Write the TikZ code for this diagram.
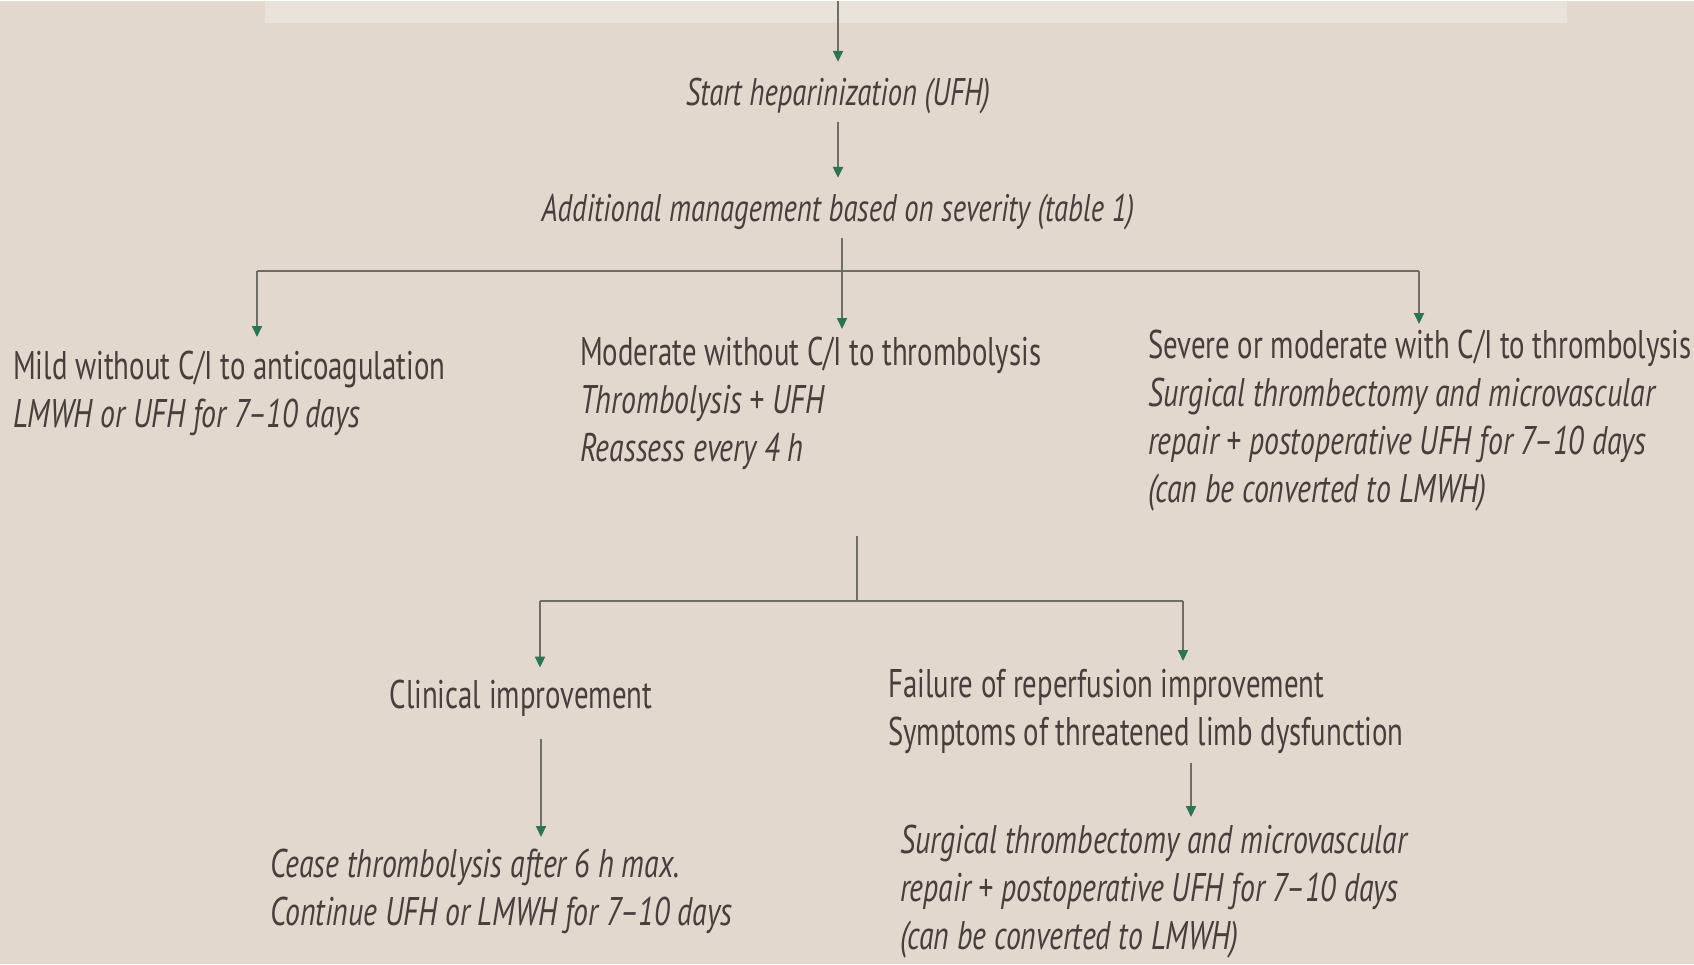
\documentclass[tikz,border=0pt]{standalone}
\usepackage{fontspec}
\setmainfont{PT Sans}[FakeStretch=0.72, ItalicFeatures={FakeStretch=0.745}]
\usetikzlibrary{arrows.meta}
\definecolor{bg}{RGB}{226,216,206}
\definecolor{band}{RGB}{234,227,219}
\definecolor{ink}{RGB}{72,62,62}
\definecolor{linecol}{RGB}{110,110,105}
\definecolor{tipcol}{RGB}{45,115,85}
\tikzset{
  txt/.style={inner sep=0pt, text=ink, font=\fontsize{40}{48}\selectfont, align=left},
  itx/.style={txt, font=\fontsize{40}{48}\selectfont\itshape},
  topit/.style={txt, font=\fontsize{38.5}{46}\selectfont\itshape},
  conn/.style={draw=linecol, line width=2pt},
  arr/.style={conn, -{Triangle[color=tipcol, width=10pt, length=11pt]}},
}
\begin{document}
\begin{tikzpicture}[x=1pt,y=-1pt]
\fill[bg] (0,0) rectangle (1694,963);
\fill[band] (265,0) rectangle (1567,22);
% top
\coordinate (top) at (838,0);
\node[topit, anchor=center] (start) at (838,95) {Start heparinization (UFH)};
\node[topit, anchor=center] (add) at (838,211) {Additional management based on severity (table 1)};
\draw[arr, shorten >=16pt] (top) -- (start.north);
\draw[arr, shorten <=8pt, shorten >=16pt] (start.south) -- (add.north);
% first branching
\node[txt, anchor=north west] (mild) at (13,350) {Mild without C/I to anticoagulation\\\itshape LMWH or UFH for 7--10 days};
\node[txt, anchor=north west] (mod) at (580,336) {Moderate without C/I to thrombolysis\\\itshape Thrombolysis + UFH\\\itshape Reassess every 4 h};
\node[txt, anchor=north west] (sev) at (1148,329) {Severe or moderate with C/I to thrombolysis\\\itshape Surgical thrombectomy and microvascular\\\itshape repair + postoperative UFH for 7--10 days\\\itshape (can be converted to LMWH)};
\coordinate (b1) at (842,270);
\coordinate (bl) at (257,270);
\coordinate (br) at (1419,270);
\draw[conn] (add.south -| b1) ++(0,8) -- (b1);
\draw[conn] (bl) -- (br);
\draw[arr, shorten >=14pt] (bl) -- (bl |- mild.north);
\draw[arr, shorten >=8pt] (b1) -- (b1 |- mod.north);
\draw[arr, shorten >=6pt] (br) -- (br |- sev.north);
% second branching
\coordinate (t2) at (857,535);
\coordinate (b2) at (857,600);
\coordinate (b2l) at (540,600);
\coordinate (b2r) at (1183,600);
\node[txt, anchor=center] (clin) at (521,697) {Clinical improvement};
\node[txt, anchor=north west] (fail) at (888,668) {Failure of reperfusion improvement\\Symptoms of threatened limb dysfunction};
\draw[conn] (t2) -- (b2);
\draw[conn] (b2l) -- (b2r);
\draw[arr, shorten >=12pt] (b2l) -- (b2l |- clin.north);
\draw[arr, shorten >=8pt] (b2r) -- (b2r |- fail.north);
\node[itx, anchor=north west] (cease) at (270,848) {Cease thrombolysis after 6 h max.\\Continue UFH or LMWH for 7--10 days};
\node[itx, anchor=north west] (surg) at (900,824) {Surgical thrombectomy and microvascular\\repair + postoperative UFH for 7--10 days\\(can be converted to LMWH)};
\coordinate (ca) at (541,738);
\coordinate (fa) at (1191,762);
\draw[arr, shorten >=12pt] (ca) -- (ca |- cease.north);
\draw[arr, shorten >=8pt] (fa) -- (fa |- surg.north);
\end{tikzpicture}
\end{document}
